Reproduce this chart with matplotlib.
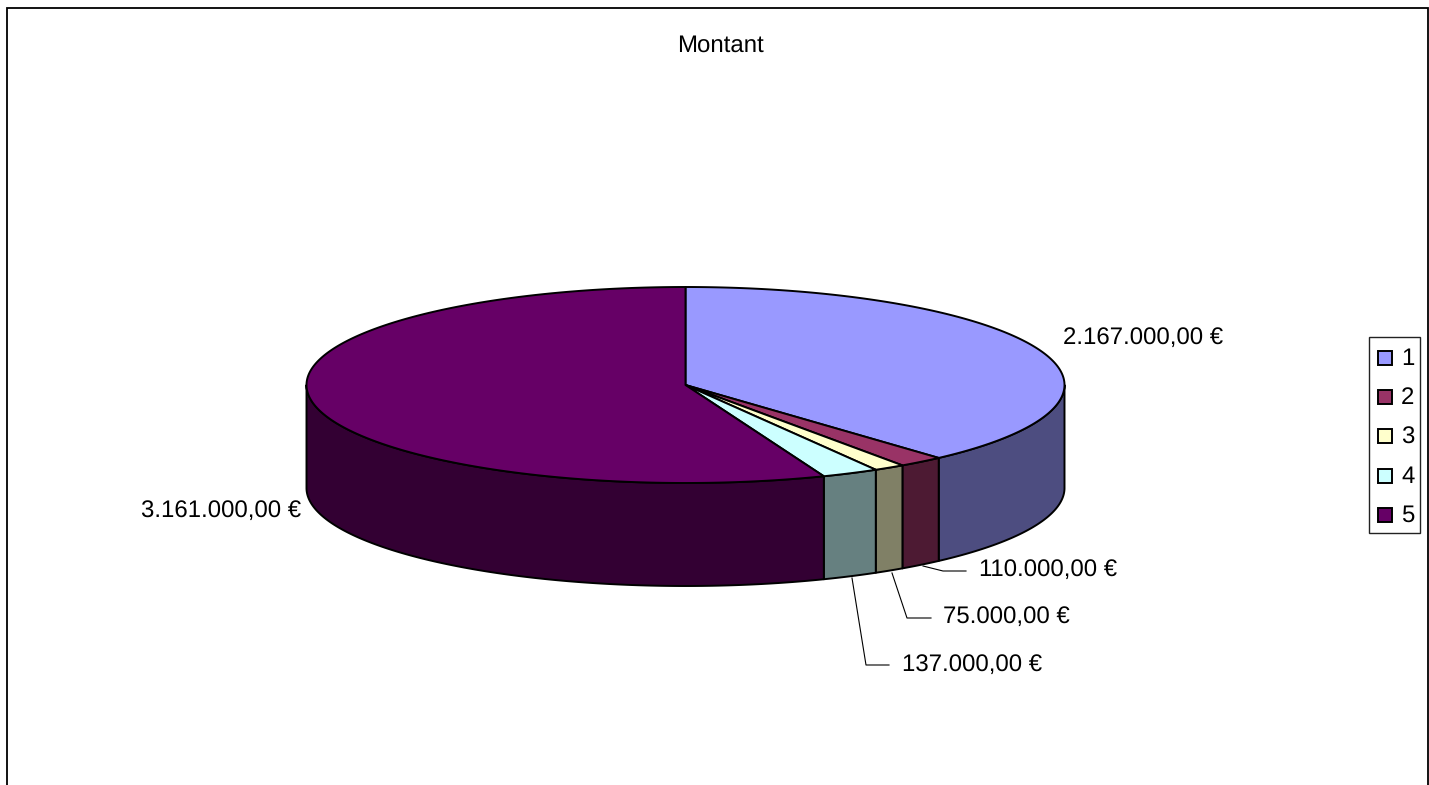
import numpy as np
import matplotlib
matplotlib.use('Agg')
import matplotlib.pyplot as plt
from matplotlib.patches import Polygon, Rectangle

plt.rcParams['font.family'] = ['Liberation Sans', 'DejaVu Sans']
plt.rcParams['text.hinting'] = 'none'
plt.rcParams['text.hinting_factor'] = 1

# valeurs du graphique
categories = ['1', '2', '3', '4', '5']
montants = [2167000, 110000, 75000, 137000, 3161000]
etiquettes = ['2.167.000,00 €', '110.000,00 €', '75.000,00 €', '137.000,00 €', '3.161.000,00 €']
couleurs = ['#9999FF', '#993366', '#FFFFCC', '#CCFFFF', '#660066']
couleurs_cote = ['#4D4D80', '#4D1A33', '#808066', '#668080', '#330033']

W, H = 1429, 785
fig = plt.figure(figsize=(W / 100, H / 100), dpi=100)
ax = fig.add_axes([0, 0, 1, 1])
ax.set_xlim(0, W)
ax.set_ylim(H, 0)
ax.axis('off')

# cadre, coupe en bas
ax.add_patch(Rectangle((6.7, 7.5), 1421, 800, fc='white', ec='black', lw=1.3))
ax.text(720, 46, 'Montant', ha='center', va='center', fontsize=17.2)

cx, cy, rx, ry, prof = 685.5, 385, 379, 98, 103


def ellipse(t, dy=0):
    # y vers le bas : le haut de l'ellipse correspond a t = 0
    return np.column_stack([cx + rx * np.sin(t), cy - ry * np.cos(t) + dy])


# angles depuis le haut, sens horaire
parts = np.cumsum([0] + montants) / sum(montants) * 2 * np.pi


def angles(a, b):
    return np.linspace(a, b, max(2, int((b - a) * 200)))


for i in range(len(montants)):
    a, b = parts[i], parts[i + 1]
    # cote visible : seulement la moitie avant
    a2, b2 = max(a, np.pi / 2), min(b, 3 * np.pi / 2)
    if b2 > a2:
        t = angles(a2, b2)
        pts = np.vstack([ellipse(t), ellipse(t[::-1], prof)])
        ax.add_patch(Polygon(pts, closed=True, fc=couleurs_cote[i], ec='black', lw=1.4, joinstyle='round'))

for i in range(len(montants)):
    t = angles(parts[i], parts[i + 1])
    pts = np.vstack([[cx, cy], ellipse(t)])
    ax.add_patch(Polygon(pts, closed=True, fc=couleurs[i], ec='black', lw=1.4, joinstyle='round'))

# etiquettes
pos_etiquettes = [(1063, 338), (979, 570), (943, 617), (902, 665), (141, 511)]
for txt, (x, y) in zip(etiquettes, pos_etiquettes):
    ax.text(x, y, txt, ha='left', va='center', fontsize=17.5)

# lignes de rappel
ax.plot([923, 943, 966], [566, 571, 571], color='black', lw=0.8)
ax.plot([892, 907, 931], [573, 618, 618], color='black', lw=0.8)
ax.plot([852, 866, 889], [578, 665, 665], color='black', lw=0.8)

# legende
ax.add_patch(Rectangle((1369, 337), 51, 196, fc='white', ec='#222222', lw=1.0))
for i, cat in enumerate(categories):
    y = 358 + i * 39.2
    ax.add_patch(Rectangle((1378.5, y - 7), 14, 14, fc=couleurs[i], ec='black', lw=1.4))
    ax.text(1401, y + 1, cat, ha='left', va='center', fontsize=17.5)

fig.savefig('out.png', dpi=100)
